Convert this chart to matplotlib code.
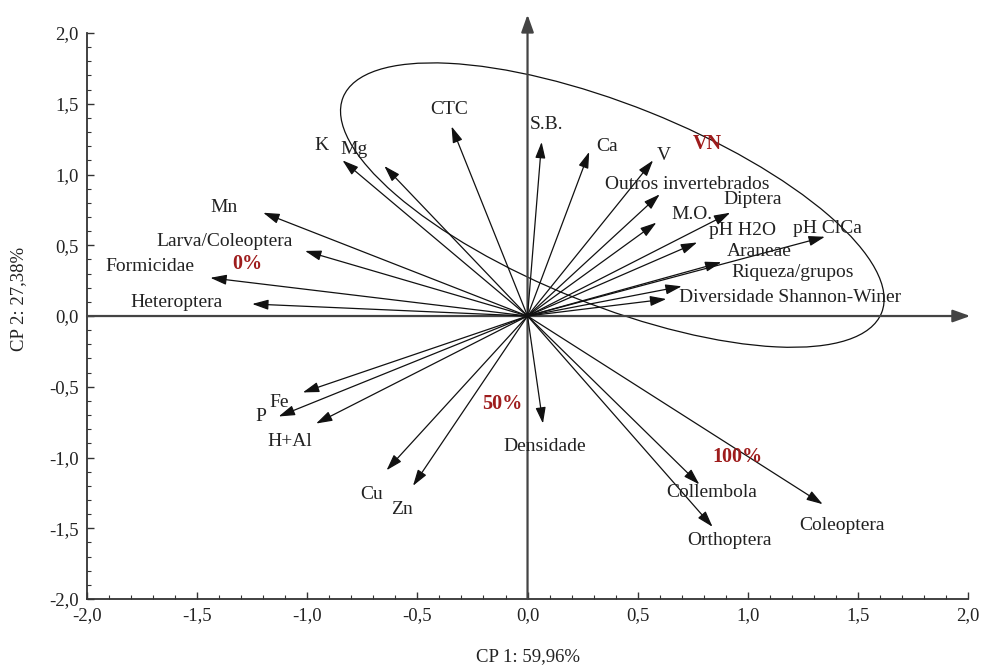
import matplotlib
matplotlib.use("Agg")
import matplotlib.pyplot as plt
from matplotlib.patches import Ellipse
from matplotlib.ticker import FuncFormatter, MultipleLocator
from matplotlib.transforms import ScaledTranslation

plt.rcParams["font.family"] = ["Liberation Serif", "DejaVu Serif"]

# Variable loadings (CP 1, CP 2)
variables = [
    "CTC", "S.B.", "K", "Mg", "Mn", "Larva/Coleoptera", "Formicidae", "Heteroptera",
    "Ca", "V", "Outros invertebrados", "M.O.", "Diptera", "pH H2O", "pH ClCa",
    "Araneae", "Riqueza/grupos", "Diversidade Shannon-Winer",
    "Fe", "P", "H+Al", "Cu", "Zn", "Densidade", "Collembola", "Orthoptera", "Coleoptera",
]
cp1 = [
    -0.345, 0.064, -0.84, -0.65, -1.20, -1.01, -1.44, -1.25,
    0.28, 0.57, 0.60, 0.585, 0.92, 0.77, 1.35,
    0.88, 0.70, 0.63,
    -1.02, -1.13, -0.96, -0.64, -0.52, 0.07, 0.78, 0.84, 1.34,
]
cp2 = [
    1.34, 1.23, 1.10, 1.06, 0.73, 0.46, 0.27, 0.085,
    1.16, 1.10, 0.86, 0.66, 0.73, 0.52, 0.56,
    0.38, 0.21, 0.12,
    -0.54, -0.71, -0.76, -1.09, -1.20, -0.76, -1.19, -1.49, -1.33,
]
# where each variable name sits
label_x = [
    -0.354, 0.086, -0.935, -0.79, -1.376, -1.376, -1.716, -1.594,
    0.359, 0.617, 0.726, 0.745, 1.022, 0.976, 1.362,
    1.053, 1.203, 1.19,
    -1.126, -1.212, -1.081, -0.708, -0.572, 0.077, 0.835, 0.917, 1.426,
]
label_y = [
    1.463, 1.357, 1.208, 1.18, 0.77, 0.53, 0.353, 0.099,
    1.201, 1.131, 0.933, 0.721, 0.827, 0.601, 0.615,
    0.459, 0.311, 0.134,
    -0.608, -0.707, -0.89, -1.258, -1.364, -0.919, -1.244, -1.59, -1.484,
]

# treatment labels (red)
groups = ["VN", "0%", "50%", "100%"]
group_x = [0.817, -1.271, -0.114, 0.953]
group_y = [1.216, 0.367, -0.622, -0.996]

fig = plt.figure(figsize=(9.83, 6.66), dpi=100)
ax = fig.add_axes([0.0885, 0.1006, 0.8963, 0.8498])
ax.set_xlim(-2, 2)
ax.set_ylim(-2, 2)

for side in ["top", "right"]:
    ax.spines[side].set_visible(False)
for side in ["left", "bottom"]:
    ax.spines[side].set_color("#333333")
    ax.spines[side].set_linewidth(1.3)

comma = FuncFormatter(lambda v, pos: f"{v:.1f}".replace(".", ","))
ax.xaxis.set_major_locator(MultipleLocator(0.5))
ax.yaxis.set_major_locator(MultipleLocator(0.5))
ax.xaxis.set_minor_locator(MultipleLocator(0.1))
ax.yaxis.set_minor_locator(MultipleLocator(0.1))
ax.xaxis.set_major_formatter(comma)
ax.yaxis.set_major_formatter(comma)
ax.tick_params(which="both", direction="in", color="#333333", labelsize=13.5, labelcolor="#222222")
ax.tick_params(which="major", length=5, width=1)
ax.tick_params(which="minor", length=3, width=0.8)
ax.tick_params(axis="x", pad=6)
ax.tick_params(axis="y", pad=6)

ax.set_xlabel("CP 1: 59,96%", fontsize=13.5, color="#222222", labelpad=17)
ax.set_ylabel("CP 2: 27,38%", fontsize=13.5, color="#222222")
ax.yaxis.set_label_coords(-0.068, 0.53)

# central axes with arrows
axis_arrow = dict(arrowstyle="-|>,head_length=0.7,head_width=0.25", color="#444444",
                  lw=1.6, mutation_scale=15, shrinkA=0, shrinkB=0)
ax.annotate("", xy=(2.01, 0), xytext=(-2, 0), arrowprops=axis_arrow, annotation_clip=False)
ax.annotate("", xy=(0, 2.13), xytext=(0, -2), arrowprops=axis_arrow, annotation_clip=False)

# loading vectors
vec_arrow = dict(arrowstyle="-|>,head_length=0.7,head_width=0.22", color="#111111",
                 lw=0.9, mutation_scale=14, shrinkA=0, shrinkB=0)
for x, y in zip(cp1, cp2):
    ax.annotate("", xy=(x, y), xytext=(0, 0), arrowprops=vec_arrow, annotation_clip=False)

for name, x, y in zip(variables, label_x, label_y):
    ax.text(x, y, name, fontsize=14, color="#222222", ha="center", va="center")

for name, x, y in zip(groups, group_x, group_y):
    ax.text(x, y, name, fontsize=14.5, color="#9e1c1c", fontweight="bold",
            ha="center", va="center")

# ellipse around the VN group (size given in inches on the page)
ell = Ellipse((0, 0), 5.8, 2.0, angle=-21.8, fill=False, color="#111111", lw=0.9,
              transform=fig.dpi_scale_trans + ScaledTranslation(0.385, 0.784, ax.transData))
ax.add_patch(ell)

fig.savefig("out.png", dpi=100)
